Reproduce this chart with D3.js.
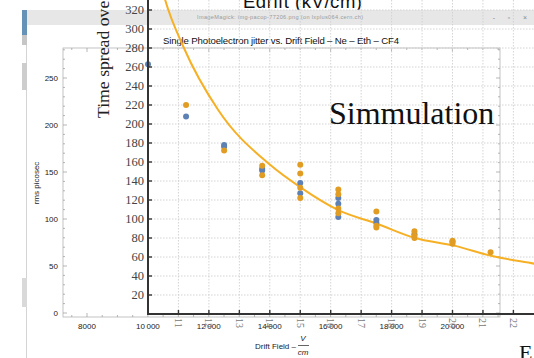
<!DOCTYPE html>
<html><head><meta charset="utf-8">
<script src="https://cdn.jsdelivr.net/npm/d3@7"></script>
<style>html,body{margin:0;padding:0;background:#fff;overflow:hidden}</style>
</head><body><svg id="c" width="534" height="358"></svg>
<script>
// Single photoelectron jitter vs drift field, Ne – Eth – CF4 (two measurement sets + fit)
const blueField  = [10, 11.25, 12.5, 12.5, 13.75, 13.75, 15, 15, 16.25, 16.25, 16.25, 17.5, 17.5, 18.75, 20];
const blueJitter = [263, 208, 178, 176, 153, 151, 138, 127, 122, 116, 102, 99, 96, 84, 76];
const orangeField  = [11.25, 12.5, 13.75, 13.75, 15, 15, 15, 15, 16.25, 16.25, 16.25, 16.25, 17.5, 17.5, 17.5, 18.75, 18.75, 18.75, 20, 20, 21.25];
const orangeJitter = [220, 172, 156, 146, 157, 148, 133, 122, 131, 126, 111, 106, 108, 93, 91, 87, 82, 80, 77, 74, 65];
// fitted curve, sampled along its length (kV/cm, ps)
const fitField  = [10.4, 10.56, 11.18, 12.3, 14.01, 15.02, 16.27, 17.52, 18.77, 20.05, 21.3, 22.68, 23.2];
const fitJitter = [350, 331, 280, 215, 157, 133, 109, 95, 80, 72, 61, 53, 50];

// axis ticks of the kV/cm chart
const kvTicks = [11, 12, 13, 14, 15, 16, 17, 18, 19, 20, 21, 22];
const kvTickLabels = ["11", "12", "13", "14", "15", "16", "17", "18", "19", "20", "21", "22"];
const psTicks = [20, 40, 60, 80, 100, 120, 140, 160, 180, 200, 220, 240, 260, 280, 300, 320];
const psTickLabels = ["20", "40", "60", "80", "100", "120", "140", "160", "180", "200", "220", "240", "260", "280", "300", "320"];
// axis ticks of the V/cm plot
const fieldTicks = [8000, 10000, 12000, 14000, 16000, 18000, 20000];
const fieldTickLabels = ["8000", "10\u2009000", "12\u2009000", "14\u2009000", "16\u2009000", "18\u2009000", "20\u2009000"];
const rmsTicks = [0, 50, 100, 150, 200, 250];
const rmsTickLabels = ["0", "50", "100", "150", "200", "250"];

const svg = d3.select("#c");
const W = 534, H = 358;
const SANS = "'Liberation Sans', Arial, sans-serif";
const SERIF = "'Liberation Serif', 'Times New Roman', serif";
const BLUE = "#5e81b5", ORANGE = "#e19c24", CURVE = "#f6b026";

// scales: kV/cm chart
const xK = d3.scaleLinear().domain([10, 22]).range([148, 513.4]);
const yP = d3.scaleLinear().domain([0, 320]).range([314, 10]);
// scales: V/cm plot
const xV = d3.scaleLinear().domain([8000, 20000]).range([87, 452.4]);
const yM = d3.scaleLinear().domain([0, 250]).range([313, 78]);

svg.append("rect").attr("width", W).attr("height", H).attr("fill", "#fff");

// page headings around the window
svg.append("text").attr("x", 243).attr("y", 8).attr("font-family", SANS).attr("font-size", 18.5)
  .attr("fill", "#111").attr("textLength", 119).text("Edrift (kV/cm)");
svg.append("text").attr("x", 519).attr("y", 360).attr("font-family", SERIF).attr("font-size", 22)
  .attr("fill", "#111").text("E");

// window border on the left
const strip = svg.append("g");
strip.append("line").attr("x1", 26.5).attr("x2", 26.5).attr("y1", 10).attr("y2", H).attr("stroke", "#d4d4d4");
[[10, 25, "#6592b6"], [35, 10, "#c6c6c6"], [63, 27, "#cdcdcd"], [278, 29, "#d9d9d9"]].forEach(([y, h, c]) =>
  strip.append("rect").attr("x", 22).attr("y", y).attr("width", 5).attr("height", h).attr("fill", c));

// window title bar
svg.append("rect").attr("x", 27).attr("y", 10).attr("width", W - 27).attr("height", 15).attr("fill", "#e7e7e7");
svg.append("text").attr("x", 197).attr("y", 19).attr("font-family", SANS).attr("font-size", 5.6)
  .attr("fill", "#9a9a9a").attr("textLength", 166).text("ImageMagick: img-pacop-77206.png (on lxplus064.cern.ch)");
[[494, "-"], [509, "\u25AB"], [525, "\u00D7"]].forEach(([x, t]) =>
  svg.append("text").attr("x", x).attr("y", 20).attr("text-anchor", "middle").attr("font-family", SANS)
    .attr("font-size", 7).attr("fill", "#888").text(t));

// ---- V/cm plot (framed) ----
const fr = {x0: 63, x1: 500, y0: 48, y1: 317};
const m = svg.append("g");
m.append("rect").attr("x", fr.x0).attr("y", fr.y0).attr("width", fr.x1 - fr.x0).attr("height", fr.y1 - fr.y0)
  .attr("fill", "none").attr("stroke", "#b3b3b3").attr("stroke-width", 0.8);
const vMinor = d3.range(7500, 21600, 500), rMinor = d3.range(0, 290, 10);
vMinor.forEach(v => {
  const major = v % 2000 === 0, L = major ? 4 : 2;
  m.append("line").attr("x1", xV(v)).attr("x2", xV(v)).attr("y1", fr.y1).attr("y2", fr.y1 - L).attr("stroke", "#999").attr("stroke-width", 0.7);
  m.append("line").attr("x1", xV(v)).attr("x2", xV(v)).attr("y1", fr.y0).attr("y2", fr.y0 + L).attr("stroke", "#999").attr("stroke-width", 0.7);
});
rMinor.forEach(v => {
  if (yM(v) < fr.y0) return;
  const major = v % 50 === 0, L = major ? 4 : 2;
  m.append("line").attr("x1", fr.x0).attr("x2", fr.x0 + L).attr("y1", yM(v)).attr("y2", yM(v)).attr("stroke", "#999").attr("stroke-width", 0.7);
  m.append("line").attr("x1", fr.x1).attr("x2", fr.x1 - L).attr("y1", yM(v)).attr("y2", yM(v)).attr("stroke", "#999").attr("stroke-width", 0.7);
});
rmsTicks.forEach((v, i) => m.append("text").attr("x", 58).attr("y", yM(v)).attr("dy", "0.35em")
  .attr("text-anchor", "end").attr("font-family", SANS).attr("font-size", 8).attr("fill", "#222").text(rmsTickLabels[i]));
fieldTicks.forEach((v, i) => m.append("text").attr("x", xV(v)).attr("y", 329)
  .attr("text-anchor", "middle").attr("font-family", SANS).attr("font-size", 8).attr("fill", "#222").text(fieldTickLabels[i]));
m.append("text").attr("x", 163).attr("y", 44).attr("font-family", SANS).attr("font-size", 9.6)
  .attr("fill", "#111").attr("textLength", 236).text("Single Photoelectron jitter vs. Drift Field \u2013 Ne \u2013 Eth \u2013 CF4");
m.append("text").attr("transform", "translate(39,183) rotate(-90)").attr("text-anchor", "middle")
  .attr("font-family", SANS).attr("font-size", 8).attr("fill", "#222").text("rms picosec");
m.append("text").attr("x", 296).attr("y", 349).attr("text-anchor", "end").attr("font-family", SANS)
  .attr("font-size", 8).attr("fill", "#222").text("Drift Field \u2013");
m.append("text").attr("x", 303).attr("y", 341).attr("text-anchor", "middle").attr("font-family", SANS)
  .attr("font-size", 8).attr("font-style", "italic").attr("fill", "#222").text("V");
m.append("line").attr("x1", 298).attr("x2", 309).attr("y1", 345.5).attr("y2", 345.5).attr("stroke", "#222").attr("stroke-width", 0.7);
m.append("text").attr("x", 303).attr("y", 355).attr("text-anchor", "middle").attr("font-family", SANS)
  .attr("font-size", 8).attr("font-style", "italic").attr("fill", "#222").text("cm");

// ---- kV/cm chart layered on top ----
const o = svg.append("g");
const grid = o.append("g").attr("stroke", "#cfcfcf").attr("stroke-width", 0.9).attr("stroke-dasharray", "1.5,1.5");
psTicks.forEach(v => grid.append("line").attr("x1", xK(10)).attr("x2", W).attr("y1", yP(v)).attr("y2", yP(v)));
kvTicks.forEach(v => grid.append("line").attr("x1", xK(v)).attr("x2", xK(v)).attr("y1", 0).attr("y2", yP(0)));

o.append("text").attr("transform", "translate(109,118) rotate(-90)").attr("font-family", SERIF)
  .attr("font-size", 17.7).attr("fill", "#222").text("Time spread ove");
o.append("text").attr("x", 329).attr("y", 124).attr("font-family", SERIF).attr("font-size", 32)
  .attr("fill", "#111").text("Simmulation");

// fit curve
const line = d3.line().x(d => xK(d[0])).y(d => yP(d[1])).curve(d3.curveMonotoneX);
o.append("path").datum(fitField.map((f, i) => [f, fitJitter[i]])).attr("d", line)
  .attr("fill", "none").attr("stroke", CURVE).attr("stroke-width", 2);

// measurements
o.append("g").selectAll("circle").data(blueField.map((f, i) => [f, blueJitter[i]])).join("circle")
  .attr("cx", d => xK(d[0])).attr("cy", d => yP(d[1])).attr("r", 3).attr("fill", BLUE);
o.append("g").selectAll("circle").data(orangeField.map((f, i) => [f, orangeJitter[i]])).join("circle")
  .attr("cx", d => xK(d[0])).attr("cy", d => yP(d[1])).attr("r", 3).attr("fill", ORANGE);

// axes
const ax = o.append("g");
ax.append("line").attr("x1", xK(10)).attr("x2", xK(10)).attr("y1", 0).attr("y2", yP(0) + 1)
  .attr("stroke", "#333").attr("stroke-width", 2);
ax.append("line").attr("x1", xK(10) - 1).attr("x2", W).attr("y1", yP(0)).attr("y2", yP(0))
  .attr("stroke", "#333").attr("stroke-width", 2.2);
psTicks.forEach((v, i) => {
  ax.append("line").attr("x1", xK(10)).attr("x2", xK(10) + 4).attr("y1", yP(v)).attr("y2", yP(v))
    .attr("stroke", "#333").attr("stroke-width", 1.4);
  ax.append("text").attr("x", 144).attr("y", yP(v)).attr("dy", "0.35em").attr("text-anchor", "end")
    .attr("font-family", SERIF).attr("font-size", 12.5).attr("fill", "#444").text(psTickLabels[i]);
});
kvTicks.forEach((v, i) => {
  ax.append("line").attr("x1", xK(v)).attr("x2", xK(v)).attr("y1", yP(0)).attr("y2", yP(0) - 4)
    .attr("stroke", "#333").attr("stroke-width", 1.4);
  ax.append("text").attr("transform", `translate(${xK(v)},318) rotate(90)`).attr("dy", "0.35em")
    .attr("font-family", SERIF).attr("font-size", 10).attr("fill", "#777").text(kvTickLabels[i]);
});
</script></body></html>
